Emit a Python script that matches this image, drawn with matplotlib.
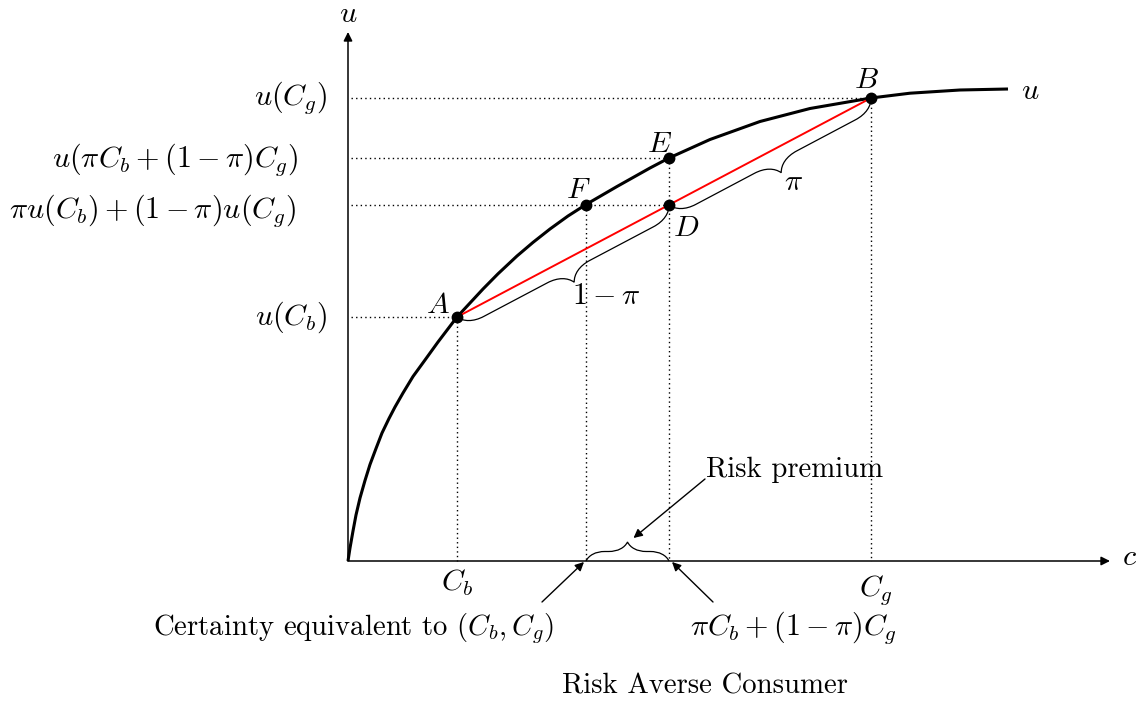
import numpy as np
import matplotlib
matplotlib.use("Agg")
import matplotlib.pyplot as plt
from matplotlib.path import Path
from matplotlib.patches import PathPatch

plt.rcParams['font.family'] = ['cmr10', 'DejaVu Serif']
plt.rcParams['mathtext.fontset'] = 'cm'
plt.rcParams['axes.unicode_minus'] = False

# ---- data (in drawing units) ----
curve_c = [0, 2, 5, 8, 12, 17, 22, 28, 34, 41, 47, 55, 65, 77, 90, 109,
           135, 150, 169, 185, 202, 220, 238, 269, 302, 321, 362, 412, 462, 523, 562, 612, 660]
curve_u = [0, 13, 30, 46, 63, 80.5, 96.5, 112.5, 128, 142.5, 154, 168, 184.5, 201, 219, 244,
           272, 287.2, 305, 318.6, 332, 345, 356.5, 374.5, 393, 403, 421.5, 439.5, 452.5, 463, 467.8, 471, 472]

c_b = 109      # bad-state consumption
c_ce = 238     # certainty equivalent
c_ev = 321     # expected consumption
c_g = 523      # good-state consumption
u_cb = 244     # u(C_b)
u_eu = 356     # expected utility
u_ev = 403     # u(expected consumption)
u_cg = 463     # u(C_g)

x_axis_end = 762
y_axis_end = 529

y_tick_labels = [r'$u(C_g)$', r'$u(\pi C_b + (1-\pi)C_g)$',
                 r'$\pi u(C_b) + (1-\pi)u(C_g)$', r'$u(C_b)$']
x_tick_labels = [r'$C_b$', r'$C_g$']

FS = 20.7   # text
FM = 21.7   # math labels

fig = plt.figure(figsize=(11.41, 7.02), dpi=100)
ax = fig.add_axes([0, 0, 1, 1])
ax.set_xlim(-348, 793)
ax.set_ylim(-141, 561)
ax.axis('off')

# axes with arrows
arw = dict(arrowstyle='-|>', lw=1.1, mutation_scale=13, color='black', shrinkA=0, shrinkB=0)
ax.annotate('', xy=(x_axis_end, 0), xytext=(0, 0), arrowprops=arw)
ax.annotate('', xy=(0, y_axis_end), xytext=(0, 0), arrowprops=arw)
ax.text(x_axis_end + 20, 4, r'$c$', fontsize=FM, ha='center', va='center')
ax.text(0, y_axis_end + 18, r'$u$', fontsize=FM, ha='center', va='center')

# dotted guide lines
dot = dict(color='black', lw=1.0, linestyle=(0, (1, 2.3)))
ax.plot([3, c_g], [u_cg, u_cg], **dot)
ax.plot([3, c_ev], [u_ev, u_ev], **dot)
ax.plot([3, c_ev], [u_eu, u_eu], **dot)
ax.plot([3, c_b], [u_cb, u_cb], **dot)
ax.plot([c_b, c_b], [u_cb, 0], **dot)
ax.plot([c_ce, c_ce], [u_eu, 0], **dot)
ax.plot([c_ev, c_ev], [u_ev, 0], **dot)
ax.plot([c_g, c_g], [u_cg, 0], **dot)

# utility curve and chord
ax.plot(curve_c, curve_u, color='black', lw=2.2, solid_capstyle='butt',
        solid_joinstyle='round', zorder=3)
ax.plot([c_b, c_g], [u_cb, u_cg], color='red', lw=1.4, zorder=3)

# points
pts_c = [c_b, c_ce, c_ev, c_ev, c_g]
pts_u = [u_cb, u_eu, u_ev, u_eu, u_cg]
ax.plot(pts_c, pts_u, 'o', color='black', ms=7.5, zorder=5)

# point labels
ax.text(c_b - 19, u_cb + 12, r'$A$', fontsize=FM, ha='center', va='center')
ax.text(c_ce - 8, u_eu + 15, r'$F$', fontsize=FM, ha='center', va='center')
ax.text(c_ev - 9, u_ev + 14, r'$E$', fontsize=FM, ha='center', va='center')
ax.text(c_g - 5, u_cg + 18, r'$B$', fontsize=FM, ha='center', va='center')
ax.text(c_ev + 17, u_eu - 23, r'$D$', fontsize=FM, ha='center', va='center')
ax.text(curve_c[-1] + 22, curve_u[-1] - 2, r'$u$', fontsize=FM, ha='center', va='center')

# y labels
ax.text(-21, u_cg, y_tick_labels[0], fontsize=FM, ha='right', va='center')
ax.text(-50, u_ev - 2, y_tick_labels[1], fontsize=FM, ha='right', va='center')
ax.text(-52, u_eu - 6, y_tick_labels[2], fontsize=FM, ha='right', va='center')
ax.text(-21, u_cb, y_tick_labels[3], fontsize=FM, ha='right', va='center')

# x labels
ax.text(c_b, -22, x_tick_labels[0], fontsize=FM, ha='center', va='center')
ax.text(c_g + 5, -29, x_tick_labels[1], fontsize=FM, ha='center', va='center')


def brace(p0, p1, a, sign):
    p0 = np.array(p0, float)
    p1 = np.array(p1, float)
    d = p1 - p0
    L = np.hypot(*d)
    t = d / L
    n = sign * np.array([-t[1], t[0]])
    h = L / 2
    local = [(0, 0), (.15 * a, .3 * a), (.5 * a, .5 * a), (a, .5 * a),
             (h - a, .5 * a),
             (h - .5 * a, .5 * a), (h - .15 * a, .7 * a), (h, a),
             (h + .15 * a, .7 * a), (h + .5 * a, .5 * a), (h + a, .5 * a),
             (L - a, .5 * a),
             (L - .5 * a, .5 * a), (L - .15 * a, .3 * a), (L, 0)]
    codes = [Path.MOVETO, Path.CURVE4, Path.CURVE4, Path.CURVE4,
             Path.LINETO,
             Path.CURVE4, Path.CURVE4, Path.CURVE4,
             Path.CURVE4, Path.CURVE4, Path.CURVE4,
             Path.LINETO,
             Path.CURVE4, Path.CURVE4, Path.CURVE4]
    verts = [tuple(p0 + s * t + hh * n) for s, hh in local]
    ax.add_patch(PathPatch(Path(verts, codes), fill=False, lw=0.9, color='black', zorder=4))
    tip = p0 + h * t + a * n
    return tip


tip1 = brace((c_b, u_cb), (c_ev, u_eu), 24, -1)
ax.text(tip1[0] + 32, tip1[1] - 14, r'$1-\pi$', fontsize=FM, ha='center', va='center')
tip2 = brace((c_ev, u_eu), (c_g, u_cg), 24, -1)
ax.text(tip2[0] + 12, tip2[1] - 9, r'$\pi$', fontsize=FM, ha='center', va='center')
tip3 = brace((c_ce, 0), (c_ev, 0), 19, 1)

# annotations
arw2 = dict(arrowstyle='-|>', lw=1.0, mutation_scale=13, color='black', shrinkA=0, shrinkB=0)
ax.annotate('', xy=(tip3[0] + 6, tip3[1] + 4), xytext=(357, 82), arrowprops=arw2)
ax.text(447, 91, 'Risk premium', fontsize=FS, ha='center', va='center')
ax.annotate('', xy=(c_ce - 2, -1), xytext=(194, -41), arrowprops=arw2)
ax.text(6, -67, r'Certainty equivalent to $(C_b, C_g)$', fontsize=FS, ha='center', va='center')
ax.annotate('', xy=(c_ev + 3, -1), xytext=(365, -41), arrowprops=arw2)
ax.text(445, -67, r'$\pi C_b + (1-\pi)C_g$', fontsize=FM, ha='center', va='center')

ax.text(357, -125, 'Risk Averse Consumer', fontsize=FS, ha='center', va='center')

fig.savefig('out.png', dpi=100)
